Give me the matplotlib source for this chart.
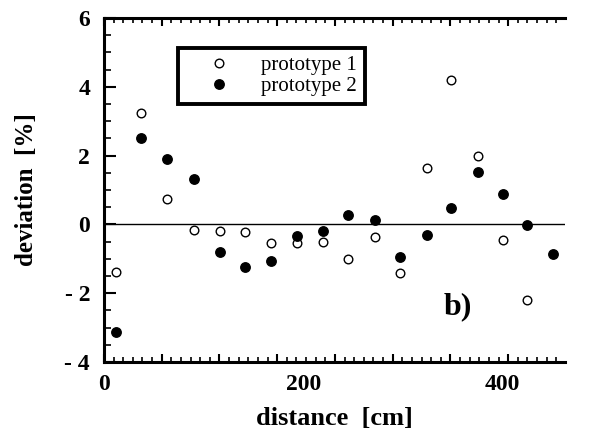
import matplotlib
matplotlib.use('Agg')
import matplotlib.pyplot as plt
from matplotlib.ticker import MultipleLocator, NullFormatter

# Data
dist1 = [12, 37, 63, 90, 117, 142, 168, 194, 220, 245, 272, 297, 324, 349, 376, 401, 425]
dev1 = [-1.37, 3.23, 0.73, -0.17, -0.2, -0.23, -0.55, -0.55, -0.5, -1.02, -0.38, -1.42,
        1.63, 4.19, 2.0, -0.44, -2.2]

dist2 = [12, 37, 63, 90, 117, 142, 168, 194, 220, 245, 272, 297, 324, 349, 376, 401, 425, 451]
dev2 = [-3.14, 2.5, 1.89, 1.31, -0.81, -1.25, -1.05, -0.35, -0.2, 0.26, 0.12, -0.96,
        -0.32, 0.47, 1.51, 0.87, -0.03, -0.87]

xticks = [0, 200, 400]
yticks = [-4, -2, 0, 2, 4, 6]
ytick_labels = ['- 4', '- 2', '0', '2', '4', '6']

plt.rcParams['font.family'] = 'Liberation Serif'

fig = plt.figure(figsize=(6.03, 4.38), dpi=100)
ax = fig.add_axes([104 / 603, 1 - 362 / 438, 461 / 603, 344 / 438])

ax.plot(dist1, dev1, 'o', ms=6.2, mfc='white', mec='black', mew=1.0, label='prototype 1')
ax.plot(dist2, dev2, 'o', ms=6.8, mfc='black', mec='black', label='prototype 2')
ax.axhline(0, color='black', lw=1.0, zorder=0)

ax.set_xlim(0, 463)
ax.set_ylim(-4, 6)

# spines
for s in ['left', 'bottom', 'top']:
    ax.spines[s].set_linewidth(2.2)
ax.spines['right'].set_visible(False)

# x tick marks (long every ~58, short in between), labels drawn separately
ax.xaxis.set_major_locator(MultipleLocator(58))
ax.xaxis.set_minor_locator(MultipleLocator(58 / 6))
ax.xaxis.set_major_formatter(NullFormatter())
ax.tick_params(axis='x', which='major', direction='in', length=6, width=1.5, top=True)
ax.tick_params(axis='x', which='minor', direction='in', length=3.5, width=1.2, top=True)

secx = ax.secondary_xaxis('bottom')
secx.set_xticks(xticks)
secx.set_xticklabels([str(v) for v in xticks], fontsize=17, fontweight='bold')
secx.tick_params(length=0, pad=9)
secx.spines['bottom'].set_visible(False)
secx.set_xlabel('distance  [cm]', fontsize=19, fontweight='bold', labelpad=8)

# y ticks
ax.set_yticks(yticks)
ax.set_yticklabels(ytick_labels, fontsize=17, fontweight='bold')
ax.yaxis.set_minor_locator(MultipleLocator(0.5))
ax.tick_params(axis='y', which='major', direction='in', length=8.5, width=1.5, pad=10)
ax.tick_params(axis='y', which='minor', direction='in', length=5, width=1.2)
ax.set_ylabel('deviation  [%]', fontsize=18, fontweight='bold', labelpad=19)

leg = ax.legend(loc='upper left', bbox_to_anchor=(0.161, 0.913), fontsize=15,
                frameon=True, fancybox=False, edgecolor='black', framealpha=1,
                handletextpad=0.4, borderpad=0.38, labelspacing=0.05, handlelength=3.2,
                borderaxespad=0)
leg.get_frame().set_linewidth(2.8)

ax.text(355, -2.38, 'b)', fontsize=23, fontweight='bold', ha='center', va='center')

fig.savefig('out.png', dpi=100)
